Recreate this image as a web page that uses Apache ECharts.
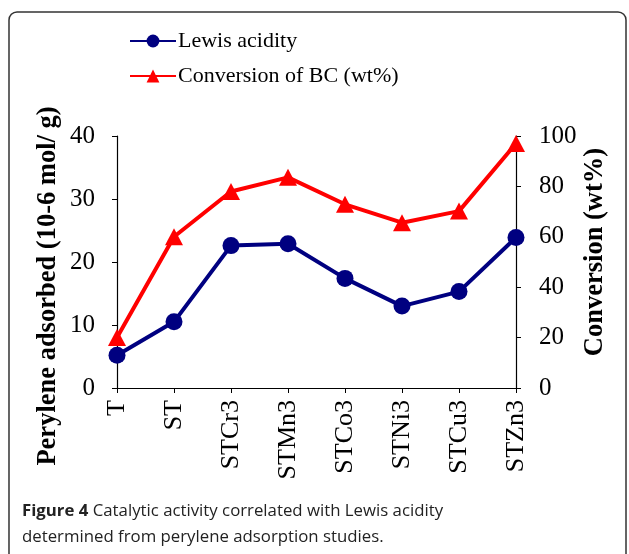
<!DOCTYPE html>
<html><head><meta charset="utf-8">
<script src="https://cdn.jsdelivr.net/npm/echarts@6/dist/echarts.min.js"></script>
<style>html,body{margin:0;padding:0;background:#fff}#c{width:629px;height:554px}</style>
</head><body><div id="c"></div>
<script>
const categories = ['T','ST','STCr3','STMn3','STCo3','STNi3','STCu3','STZn3'];
const lewisAcidity = [5.2, 10.5, 22.6, 22.9, 17.4, 13.0, 15.3, 23.9];
const conversionBC = [20, 60, 78, 83.6, 72.9, 65.6, 70.2, 97];
const leftTicks = [0, 10, 20, 30, 40];
const rightTicks = [0, 20, 40, 60, 80, 100];
const seriesNames = ['Lewis acidity', 'Conversion of BC (wt%)'];
const leftAxisTitle = 'Perylene adsorbed (10-6 mol/ g)';
const rightAxisTitle = 'Conversion (wt%)';

const chart = echarts.init(document.getElementById('c'), null, {renderer:'canvas'});
const tf = '"Liberation Serif","Times New Roman",serif';
const axisLineStyle = {lineStyle:{color:'#000', width:1.2}};
chart.setOption({
  animation:false,
  backgroundColor:'#fff',
  grid:{left:117, right:113, top:136, bottom:166, containLabel:false},
  legend:{
    orient:'vertical', left:124, top:25, itemWidth:46, itemHeight:16, itemGap:13,
    textStyle:{fontFamily:tf, fontSize:22, color:'#000', lineHeight:20, padding:[0,0,0,-3]},
    data:seriesNames
  },
  xAxis:{
    type:'category', data:categories, boundaryGap:false,
    axisLine:axisLineStyle, axisTick:{show:true, alignWithLabel:true, length:5, lineStyle:{color:'#000'}},
    axisLabel:{rotate:90, fontFamily:tf, fontSize:26, color:'#000', margin:12, interval:0}
  },
  yAxis:[{
    type:'value', min:0, max:40, interval:10, position:'left',
    axisLine:{show:true, ...axisLineStyle}, axisTick:{show:true, length:5, inside:false, lineStyle:{color:'#000'}},
    splitLine:{show:false},
    axisLabel:{fontFamily:tf, fontSize:25, color:'#000', margin:22}
  },{
    type:'value', min:0, max:100, interval:20, position:'right',
    axisLine:{show:true, ...axisLineStyle}, axisTick:{show:true, length:5, lineStyle:{color:'#000'}},
    splitLine:{show:false},
    axisLabel:{fontFamily:tf, fontSize:25, color:'#000', margin:23}
  }],
  series:[{
    name:seriesNames[0], type:'line', yAxisIndex:0, data:lewisAcidity,
    symbol:'circle', symbolSize:17, color:'#000080',
    lineStyle:{width:4, color:'#000080'}, itemStyle:{color:'#000080'}
  },{
    name:seriesNames[1], type:'line', yAxisIndex:1, data:conversionBC,
    symbol:'triangle', symbolSize:[18,17], color:'#ff0000',
    lineStyle:{width:4, color:'#ff0000'}, itemStyle:{color:'#ff0000'}
  }],
  graphic:[
    {type:'rect', shape:{x:9, y:12, width:617, height:560, r:8}, style:{fill:'none', stroke:'#333', lineWidth:1.5}, silent:true},
    {type:'text', x:48, y:286, rotation:Math.PI/2, style:{text:leftAxisTitle, font:'bold 26.5px '+tf, fill:'#000', align:'center', verticalAlign:'middle'}},
    {type:'text', x:595, y:252, rotation:Math.PI/2, style:{text:rightAxisTitle, font:'bold 26.5px '+tf, fill:'#000', align:'center', verticalAlign:'middle'}},
    {type:'text', left:22, top:498, style:{
      text:'{b|Figure 4} Catalytic activity correlated with Lewis acidity\ndetermined from perylene adsorption studies.',
      font:'16.8px "Open Sans"', fill:'#222', lineHeight:26,
      rich:{b:{font:'bold 16.8px "Open Sans"', fill:'#222', lineHeight:26}}
    }}
  ]
});
</script></body></html>
